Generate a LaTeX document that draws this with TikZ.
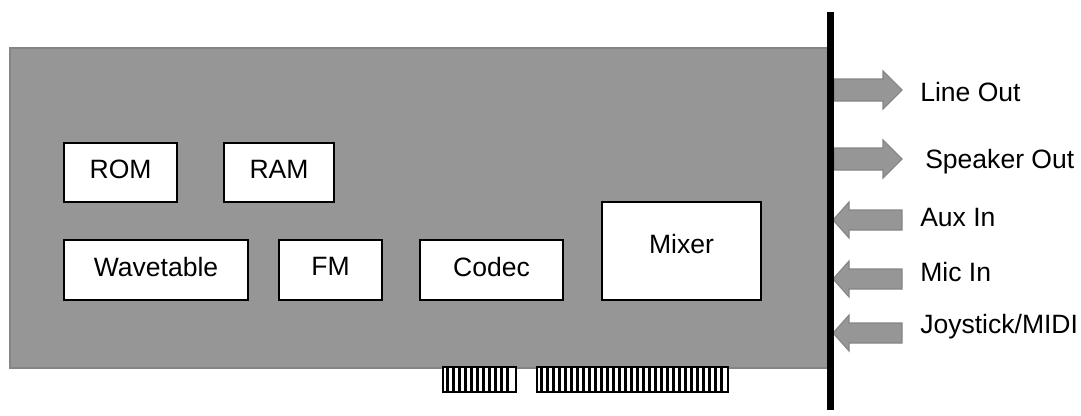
\documentclass[tikz,border=0pt]{standalone}
\usepackage{fontspec}
\setmainfont{Liberation Sans}
\begin{document}
\begin{tikzpicture}[x=0.75pt,y=-0.75pt,
  board/.style={fill=boardgray,draw=edgegray,line width=0.8pt},
  chip/.style={draw=black,fill=white,line width=1.6pt,minimum width=0pt,minimum height=0pt,inner sep=0pt},
  lbl/.style={anchor=west,inner sep=0pt,font=\fontsize{19.9}{23}\selectfont},
  chiptext/.style={font=\fontsize{19.9}{23}\selectfont},
  port/.style={fill=boardgray,draw=edgegray,line width=0.8pt,line join=miter},
  pin/.style={draw=black,fill=white,line width=1.6pt}]
\definecolor{boardgray}{HTML}{969696}
\definecolor{edgegray}{HTML}{858585}
\useasboundingbox (0,0) rectangle (1081,415);

% card body
\draw[board] (10,48) rectangle (830,368);

% chips on the card
\newcommand{\chipbox}[6]{%
  \node[chip,minimum width=#3*0.75pt,minimum height=#4*0.75pt,anchor=north west] (#1) at (#2) {};
  \node[chiptext] (#5) at ([yshift=2.5pt]#1.center) {#6};}
\chipbox{rom}{63,142}{113}{59}{romt}{ROM}
\chipbox{ram}{223,142}{110}{59}{ramt}{RAM}
\chipbox{wave}{63,239}{184}{60}{wavet}{Wavetable}
\chipbox{fm}{278,239}{103}{60}{fmt}{FM}
\chipbox{codec}{419,239}{143}{60}{codect}{Codec}
\node[chip,minimum width=159*0.75pt,minimum height=98*0.75pt,anchor=north west] (mixer) at (601,201) {};
\node[chiptext] (mixert) at ([yshift=5pt]mixer.center) {Mixer};

% edge connector fingers
\draw[pin] (443,367) rectangle (516,392);
\foreach \x in {447.5,453.5,...,512} \draw[line width=2.4pt] (\x,367) -- (\x,392);
\draw[pin] (537,367) rectangle (728,392);
\foreach \x in {541.5,547.5,...,725} \draw[line width=2.4pt] (\x,367) -- (\x,392);

% output arrows
\draw[port] (834,79) -- (883,79) -- (883,71) -- (902,90) -- (883,109) -- (883,101) -- (834,101) -- cycle;
\draw[port] (834,148) -- (883,148) -- (883,140) -- (902,159) -- (883,178) -- (883,170) -- (834,170) -- cycle;
% input arrows
\foreach \y in {220,279,333}
  \draw[port] (902,\y-10) -- (849,\y-10) -- (849,\y-18) -- (833,\y) -- (849,\y+18) -- (849,\y+10) -- (902,\y+10) -- cycle;

% bracket
\draw[line width=5.2pt] (830.5,12) -- (830.5,410);

% port labels
\node[lbl] (lineout) at (920,92) {Line Out};
\node[lbl] (spkout) at (925,162) {Speaker Out};
\node[lbl] (auxin) at (920,217) {Aux In};
\node[lbl] (micin) at (920,272) {Mic In};
\node[lbl] (joy) at (920,327) {Joystick/MIDI};
\end{tikzpicture}
\end{document}
